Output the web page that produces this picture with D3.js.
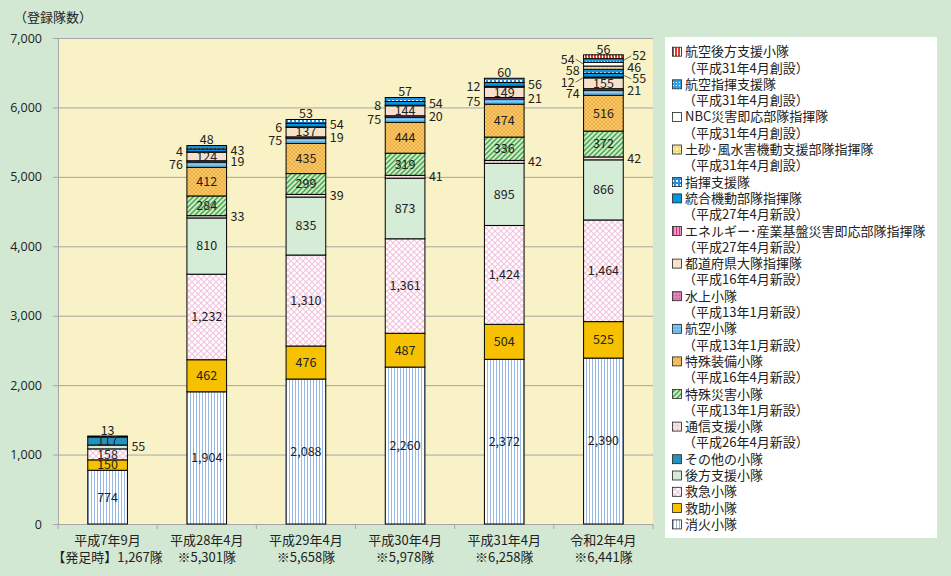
<!DOCTYPE html>
<html>
<head>
<meta charset="utf-8">
<script src="https://cdn.jsdelivr.net/npm/d3@7"></script>
<style>
  body { margin: 0; background: #d3e8d3; }
  svg { display: block; font-family: "Noto Sans CJK JP", "Noto Sans", sans-serif; }
</style>
</head>
<body>
<div id="chart"></div>
<script>
// Categories (x axis, two lines)
var periods = ["平成7年9月", "平成28年4月", "平成29年4月", "平成30年4月", "平成31年4月", "令和2年4月"];
var totals = ["【発足時】1,267隊", "※5,301隊", "※5,658隊", "※5,978隊", "※6,258隊", "※6,441隊"];

// Series, bottom to top of each bar
var shoka = [774, 1904, 2088, 2260, 2372, 2390];      // 消火小隊
var kyujo = [150, 462, 476, 487, 504, 525];           // 救助小隊
var kyukyu = [158, 1232, 1310, 1361, 1424, 1464];     // 救急小隊
var koho = [55, 810, 835, 873, 895, 866];             // 後方支援小隊
var sonota = [117, 0, 0, 0, 0, 0];                    // その他の小隊
var tsushin = [0, 33, 39, 41, 42, 42];                // 通信支援小隊
var tokusai = [0, 284, 299, 319, 336, 372];           // 特殊災害小隊
var tokuso = [0, 412, 435, 444, 474, 516];            // 特殊装備小隊
var koku = [0, 76, 75, 75, 75, 74];                   // 航空小隊
var suijo = [0, 19, 19, 20, 21, 21];                  // 水上小隊
var todofuken = [0, 124, 137, 144, 149, 155];         // 都道府県大隊指揮隊
var energy = [0, 4, 6, 8, 12, 12];                    // エネルギー・産業基盤災害即応部隊指揮隊
var togo = [0, 43, 54, 54, 56, 55];                   // 統合機動部隊指揮隊
var shikishien = [13, 48, 53, 57, 60, 58];            // 指揮支援隊
var dosha = [0, 0, 0, 0, 0, 46];                      // 土砂・風水害機動支援部隊指揮隊
var nbc = [0, 0, 0, 0, 0, 54];                        // NBC災害即応部隊指揮隊
var kokushiki = [0, 0, 0, 0, 0, 52];                  // 航空指揮支援隊
var kokukoho = [0, 0, 0, 0, 0, 56];                   // 航空後方支援小隊

var yTicks = [0, 1000, 2000, 3000, 4000, 5000, 6000, 7000];

var series = [
  { key: "shoka", name: "消火小隊", note: "", values: shoka, side: "right" },
  { key: "kyujo", name: "救助小隊", note: "", values: kyujo, side: "right" },
  { key: "kyukyu", name: "救急小隊", note: "", values: kyukyu, side: "right" },
  { key: "koho", name: "後方支援小隊", note: "", values: koho, side: "right" },
  { key: "sonota", name: "その他の小隊", note: "", values: sonota, side: "right" },
  { key: "tsushin", name: "通信支援小隊", note: "（平成26年4月新設）", values: tsushin, side: "right" },
  { key: "tokusai", name: "特殊災害小隊", note: "（平成13年1月新設）", values: tokusai, side: "right" },
  { key: "tokuso", name: "特殊装備小隊", note: "（平成16年4月新設）", values: tokuso, side: "right" },
  { key: "koku", name: "航空小隊", note: "（平成13年1月新設）", values: koku, side: "left" },
  { key: "suijo", name: "水上小隊", note: "（平成13年1月新設）", values: suijo, side: "right" },
  { key: "todofuken", name: "都道府県大隊指揮隊", note: "（平成16年4月新設）", values: todofuken, side: "right" },
  { key: "energy", name: "エネルギー･産業基盤災害即応部隊指揮隊", note: "（平成27年4月新設）", values: energy, side: "left" },
  { key: "togo", name: "統合機動部隊指揮隊", note: "（平成27年4月新設）", values: togo, side: "right" },
  { key: "shikishien", name: "指揮支援隊", note: "", values: shikishien, side: "left" },
  { key: "dosha", name: "土砂･風水害機動支援部隊指揮隊", note: "（平成31年4月創設）", values: dosha, side: "right" },
  { key: "nbc", name: "NBC災害即応部隊指揮隊", note: "（平成31年4月創設）", values: nbc, side: "left" },
  { key: "kokushiki", name: "航空指揮支援隊", note: "（平成31年4月創設）", values: kokushiki, side: "right" },
  { key: "kokukoho", name: "航空後方支援小隊", note: "（平成31年4月創設）", values: kokukoho, side: "right" }
];

var width = 951, height = 576;
var plot = { left: 58, right: 653, top: 38, bottom: 524 };

var svg = d3.select("#chart").append("svg")
  .attr("width", width)
  .attr("height", height);

svg.append("rect").attr("width", width).attr("height", height).attr("fill", "#d3e8d3");

// ---------- patterns ----------
var defs = svg.append("defs");

function pat(id, w, h, bg) {
  var p = defs.append("pattern").attr("id", id)
    .attr("patternUnits", "userSpaceOnUse").attr("width", w).attr("height", h);
  p.append("rect").attr("width", w).attr("height", h).attr("fill", bg);
  return p;
}

var p;
p = pat("p-shoka", 3, 3, "#ffffff");
p.append("rect").attr("x", 1).attr("width", 1).attr("height", 3).attr("fill", "#98b8e8");

p = pat("p-kyukyu", 6, 6, "#ffffff");
p.append("path").attr("d", "M0,0L6,6M6,0L0,6").attr("stroke", "#f3c2df").attr("stroke-width", 1.1);

p = pat("p-tsushin", 4, 4, "#f8e0e2");
p.append("rect").attr("x", 1).attr("y", 1).attr("width", 1).attr("height", 1).attr("fill", "#e8a0b0");

p = pat("p-tokusai", 5, 5, "#cfe9c4");
p.append("path").attr("d", "M-1,6L6,-1M-1,1L1,-1M4,6L6,4").attr("stroke", "#3fa54a").attr("stroke-width", 1.4);

p = pat("p-tokuso", 4, 4, "#f7c86a");
p.append("path").attr("d", "M0,0L4,4M4,0L0,4").attr("stroke", "#eeae42").attr("stroke-width", 0.9);

p = pat("p-koku", 3, 3, "#62b8ec");
p.append("rect").attr("y", 2).attr("width", 3).attr("height", 1).attr("fill", "#8ccbf0");

p = pat("p-suijo", 3, 3, "#e27fb6");
p.append("rect").attr("x", 1).attr("y", 1).attr("width", 1).attr("height", 1).attr("fill", "#b8508a");

p = pat("p-energy", 3, 3, "#f19ac6");
p.append("rect").attr("x", 1).attr("width", 1).attr("height", 3).attr("fill", "#d8307c");

p = pat("p-shikishien", 4, 4, "#1f8fe0");
p.append("rect").attr("x", 0).attr("y", 0).attr("width", 2).attr("height", 2).attr("fill", "#ffffff");

p = pat("p-dosha", 4, 4, "#f6df76");
p.append("rect").attr("x", 0).attr("y", 0).attr("width", 2).attr("height", 2).attr("fill", "#fdf5cf");

p = pat("p-kokushiki", 3, 3, "#2da2e4");
p.append("rect").attr("x", 1).attr("y", 1).attr("width", 1).attr("height", 1).attr("fill", "#ffffff");

p = pat("p-kokukoho", 3, 3, "#ffffff");
p.append("rect").attr("x", 0).attr("width", 2).attr("height", 3).attr("fill", "#e0392d");

var fills = {
  shoka: "url(#p-shoka)",
  kyujo: "#f5c100",
  kyukyu: "url(#p-kyukyu)",
  koho: "#d5ecd6",
  sonota: "#2592bc",
  tsushin: "url(#p-tsushin)",
  tokusai: "url(#p-tokusai)",
  tokuso: "url(#p-tokuso)",
  koku: "url(#p-koku)",
  suijo: "url(#p-suijo)",
  todofuken: "#f6e2cc",
  energy: "url(#p-energy)",
  togo: "#0095dc",
  shikishien: "url(#p-shikishien)",
  dosha: "url(#p-dosha)",
  nbc: "#ffffff",
  kokushiki: "url(#p-kokushiki)",
  kokukoho: "url(#p-kokukoho)"
};

// ---------- scales ----------
var x = d3.scaleBand().domain(periods).range([plot.left, plot.right]).paddingInner(0.6).paddingOuter(0.3);
var y = d3.scaleLinear().domain([0, 7000]).range([plot.bottom, plot.top]);

// plot background
svg.append("rect")
  .attr("x", plot.left).attr("y", plot.top)
  .attr("width", plot.right - plot.left).attr("height", plot.bottom - plot.top)
  .attr("fill", "#f9f2c6");

// grid lines + y axis
var yAxis = svg.append("g")
  .attr("transform", "translate(" + plot.left + ",0)")
  .call(d3.axisLeft(y).tickValues(yTicks).tickFormat(d3.format(",")).tickSize(5).tickPadding(11));
yAxis.select(".domain").attr("stroke", "#a6a6a6");
yAxis.selectAll(".tick line").attr("stroke", "#a6a6a6");
yAxis.selectAll(".tick text").attr("fill", "#222").style("font-size", "12.5px")
  .style("font-family", "Open Sans, Noto Sans, sans-serif");

svg.append("g").selectAll("line")
  .data(yTicks.filter(function (d) { return d > 0; }))
  .enter().append("line")
  .attr("x1", plot.left).attr("x2", plot.right)
  .attr("y1", function (d) { return y(d) + 0.5; }).attr("y2", function (d) { return y(d) + 0.5; })
  .attr("stroke", "#a6a6a6").attr("stroke-width", 1);

// x axis line + ticks between categories
svg.append("line")
  .attr("x1", plot.left).attr("x2", plot.right)
  .attr("y1", plot.bottom + 0.5).attr("y2", plot.bottom + 0.5)
  .attr("stroke", "#a6a6a6");
var step = x.step();
svg.append("g").selectAll("line")
  .data(d3.range(periods.length + 1))
  .enter().append("line")
  .attr("x1", function (i) { return x(periods[0]) - x.paddingOuter() * step + i * step; })
  .attr("x2", function (i) { return x(periods[0]) - x.paddingOuter() * step + i * step; })
  .attr("y1", plot.bottom).attr("y2", plot.bottom + 5)
  .attr("stroke", "#a6a6a6");

// x labels
var xl = svg.append("g").selectAll("text")
  .data(periods)
  .enter().append("text")
  .attr("text-anchor", "middle")
  .attr("fill", "#222")
  .style("font-size", "13px");
xl.append("tspan")
  .attr("x", function (d) { return x(d) + x.bandwidth() / 2; })
  .attr("y", 545)
  .text(function (d) { return d; });
xl.append("tspan")
  .attr("x", function (d) { return x(d) + x.bandwidth() / 2; })
  .attr("y", 562)
  .text(function (d, i) { return totals[i]; });

// y title
svg.append("text")
  .attr("x", 14).attr("y", 22)
  .attr("fill", "#222")
  .style("font-size", "13px")
  .text("（登録隊数）");

// ---------- stacked bars ----------
var table = periods.map(function (per, i) {
  var row = { period: per };
  series.forEach(function (s) { row[s.key] = s.values[i]; });
  return row;
});
var stacked = d3.stack().keys(series.map(function (s) { return s.key; }))(table);

var layers = svg.append("g").selectAll("g")
  .data(stacked)
  .enter().append("g")
  .attr("fill", function (d) { return fills[d.key]; });

layers.selectAll("rect")
  .data(function (d) { return d.filter(function (v) { return v[1] - v[0] > 0; }); })
  .enter().append("rect")
  .attr("x", function (d) { return x(d.data.period); })
  .attr("y", function (d) { return y(d[1]); })
  .attr("width", x.bandwidth())
  .attr("height", function (d) { return y(d[0]) - y(d[1]); })
  .attr("stroke", "#000")
  .attr("stroke-width", 1);

// ---------- value labels ----------
var fmt = d3.format(",");
var labelG = svg.append("g").style("font-size", "12.5px").attr("fill", "#222");

periods.forEach(function (per, i) {
  var x0 = x(per), x1 = x(per) + x.bandwidth(), xc = x0 + x.bandwidth() / 2;
  var segs = [];
  stacked.forEach(function (layer, k) {
    var v = layer[i][1] - layer[i][0];
    if (v > 0) segs.push({ s: series[k], v: v, lo: layer[i][0], hi: layer[i][1] });
  });
  var sides = { left: [], right: [] };
  segs.forEach(function (sg, j) {
    var cy = y((sg.lo + sg.hi) / 2);
    if (j === segs.length - 1) {
      labelG.append("text").attr("x", xc).attr("y", y(sg.hi) - 5.5)
        .attr("dy", "0.35em").attr("text-anchor", "middle").text(fmt(sg.v));
    } else if (sg.v >= 100) {
      labelG.append("text").attr("x", xc).attr("y", cy)
        .attr("dy", "0.35em").attr("text-anchor", "middle").text(fmt(sg.v));
    } else {
      sides[sg.s.side].push({ v: sg.v, target: cy, pos: cy });
    }
  });

  // spread side labels so they don't sit on top of each other
  ["left", "right"].forEach(function (side) {
    var list = sides[side].sort(function (a, b) { return a.target - b.target; });
    var gap = 11.5;
    for (var it = 0; it < 30; it++) {
      for (var j = 1; j < list.length; j++) {
        var d = list[j].pos - list[j - 1].pos;
        if (d < gap) {
          var push = (gap - d) / 2;
          list[j - 1].pos -= push;
          list[j].pos += push;
        }
      }
    }
    list.forEach(function (l) {
      var moved = Math.abs(l.pos - l.target) > 2.5;
      var off = moved ? 9 : 4;
      var tx = side === "left" ? x0 - off : x1 + off;
      if (moved) {
        var ex = side === "left" ? x0 : x1;
        labelG.append("line")
          .attr("x1", ex).attr("y1", l.target)
          .attr("x2", side === "left" ? tx + 1 : tx - 1).attr("y2", l.pos)
          .attr("stroke", "#444").attr("stroke-width", 0.8);
      }
      labelG.append("text").attr("x", tx).attr("y", l.pos)
        .attr("dy", "0.35em")
        .attr("text-anchor", side === "left" ? "end" : "start")
        .text(fmt(l.v));
    });
  });
});

// ---------- legend ----------
var legendBox = { x: 665, y: 37, w: 272, h: 501 };
svg.append("rect")
  .attr("x", legendBox.x).attr("y", legendBox.y)
  .attr("width", legendBox.w).attr("height", legendBox.h)
  .attr("fill", "#ffffff");

var lineH = 16.3;
var ly = 51.7;
var legend = svg.append("g").style("font-size", "13px").attr("fill", "#222");
series.slice().reverse().forEach(function (s) {
  legend.append("rect")
    .attr("x", 672.5).attr("y", ly - 4.5)
    .attr("width", 9).attr("height", 9)
    .attr("fill", fills[s.key])
    .attr("stroke", "#222").attr("stroke-width", 0.8);
  legend.append("text").attr("x", 685).attr("y", ly).attr("dy", "0.35em").text(s.name);
  ly += lineH;
  if (s.note) {
    legend.append("text").attr("x", 683).attr("y", ly).attr("dy", "0.35em").text(s.note);
    ly += lineH;
  }
});
</script>
</body>
</html>
